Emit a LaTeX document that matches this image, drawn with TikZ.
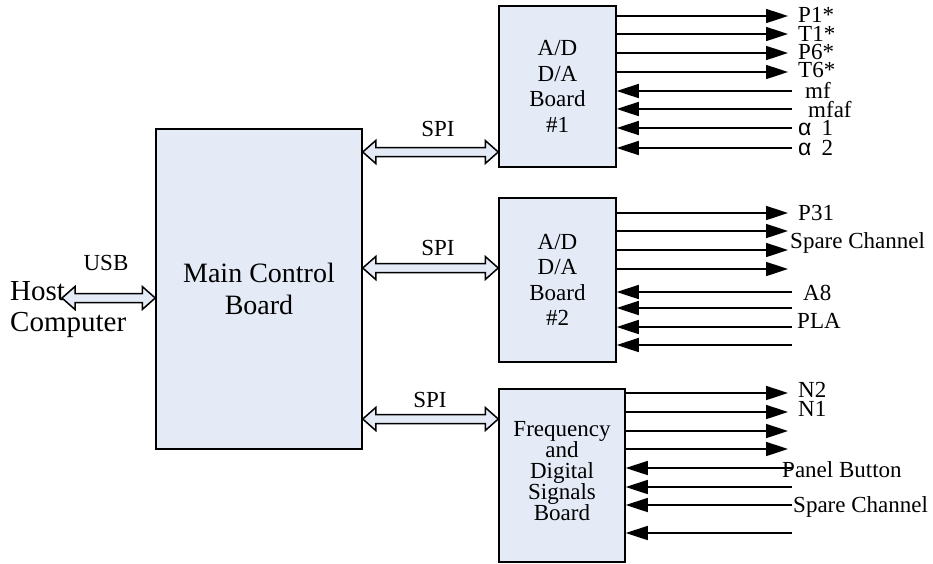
\documentclass[tikz,border=0pt]{standalone}
\usepackage{fontspec}
\setmainfont{Liberation Serif}
\newfontfamily\alphafont{Liberation Sans}
\usepackage{tikz}
\usetikzlibrary{arrows.meta, positioning, calc}
\definecolor{boardfill}{RGB}{228,235,247}
\tikzset{
  board/.style     = {rectangle, draw, line width=1.5pt, fill=boardfill, align=center,
                      inner sep=0pt, font=\fontsize{23}{25.5}\selectfont},
  mainboard/.style = {board, font=\fontsize{28}{32}\selectfont},
  sig/.style       = {line width=1.6pt, -{Triangle[length=22pt,width=14pt]}},
  lbl/.style       = {inner sep=0pt, anchor=west, font=\fontsize{23}{25}\selectfont},
  bus/.style       = {draw, line width=1.5pt, fill=boardfill, line join=miter},
}
\newcommand{\busarrow}[2]{%
  \draw[bus] let \p1=(#1), \p2=(#2) in
    (\x1,\y1) -- (\x1+13pt,\y1+11.5pt) -- (\x1+13pt,\y1+4.5pt) -- (\x2-13pt,\y1+4.5pt)
    -- (\x2-13pt,\y1+11.5pt) -- (\x2,\y1) -- (\x2-13pt,\y1-11.5pt) -- (\x2-13pt,\y1-4.5pt)
    -- (\x1+13pt,\y1-4.5pt) -- (\x1+13pt,\y1-11.5pt) -- cycle;}

\begin{document}
\begin{tikzpicture}[x=1pt, y=-1pt]
    \useasboundingbox (0,0) rectangle (933,563);

    %% Boards
    \node[mainboard, minimum width=206pt, minimum height=320pt] (main) at (259,289) {Main Control\\Board};
    \node[board, minimum width=117pt, minimum height=161pt] (b1) at (557.5,86.5) {A/D\\D/A\\Board\\\#1};
    \node[board, minimum width=117pt, minimum height=164pt] (b2) at (557.5,280) {A/D\\D/A\\Board\\\#2};
    \node[board, minimum width=126pt, minimum height=173pt,
          font=\fontsize{23}{21}\selectfont] (b3) at (562,475.5)
          {Frequency\\and\\Digital\\Signals\\Board\\[-11pt]};

    %% Host computer and USB
    \node[inner sep=0pt, anchor=north west, align=left, font=\fontsize{29}{31}\selectfont]
          (host) at (10,281) {Host\\Computer};
    \coordinate (usb) at (62,298);
    \busarrow{usb}{main.west |- usb}
    \node[font=\fontsize{23}{25}\selectfont] (usblbl) at (106,263) {USB};

    %% SPI buses
    \coordinate (spi1) at (b1.west |- 0,152);
    \coordinate (spi2) at (b2.west |- 0,268);
    \coordinate (spi3) at (b3.west |- 0,419);
    \busarrow{main.east |- spi1}{spi1}
    \busarrow{main.east |- spi2}{spi2}
    \busarrow{main.east |- spi3}{spi3}
    \node[font=\fontsize{23}{25}\selectfont] (spilbl1) at (438,129) {SPI};
    \node[font=\fontsize{23}{25}\selectfont] (spilbl2) at (438,248) {SPI};
    \node[font=\fontsize{23}{25}\selectfont] (spilbl3) at (430,400) {SPI};

    %% Board #1 signals
    \foreach \y [count=\i] in {16,34,53,72} {
      \coordinate (oa\i) at (788,\y);
      \draw[sig] (b1.east |- oa\i) -- (oa\i);
    }
    \foreach \y [count=\i] in {91,109,128,148} {
      \coordinate (ia\i) at (792,\y);
      \draw[sig] (ia\i) -- (b1.east |- ia\i);
    }
    \node[lbl] (p1)  at (798,15)  {P1*};
    \node[lbl] (t1)  at (798,34)  {T1*};
    \node[lbl] (p6)  at (798,52)  {P6*};
    \node[lbl] (t6)  at (798,70)  {T6*};
    \node[lbl] (mf)  at (805,90)  {mf};
    \node[lbl] (mfaf) at (808,110) {mfaf};
    \node[lbl] (al1) at (798,128) {{\alphafont α}\hspace{10pt}1};
    \node[lbl] (al2) at (798,148) {{\alphafont α}\hspace{10pt}2};

    %% Board #2 signals
    \foreach \y [count=\i] in {213,231,250,269} {
      \coordinate (ob\i) at (788,\y);
      \draw[sig] (b2.east |- ob\i) -- (ob\i);
    }
    \foreach \y [count=\i] in {292,308,327,345} {
      \coordinate (ib\i) at (792,\y);
      \draw[sig] (ib\i) -- (b2.east |- ib\i);
    }
    \node[lbl] (p31)   at (798,213) {P31};
    \node[lbl] (spare1) at (790,243) {Spare Channel};
    \node[lbl] (a8)    at (803,293) {A8};
    \node[lbl] (pla)   at (797,321) {PLA};

    %% Frequency and digital signals board
    \foreach \y [count=\i] in {393,412,431,449} {
      \coordinate (oc\i) at (788,\y);
      \draw[sig] (b3.east |- oc\i) -- (oc\i);
    }
    \foreach \y [count=\i] in {468,487,505,533} {
      \coordinate (ic\i) at (792,\y);
      \draw[sig] (ic\i) -- (b3.east |- ic\i);
    }
    \node[lbl] (n2)     at (798,390) {N2};
    \node[lbl] (n1)     at (798,409) {N1};
    \node[lbl] (panel)  at (782,470) {Panel Button};
    \node[lbl] (spare2) at (793,507) {Spare Channel};

  \end{tikzpicture}
\end{document}
